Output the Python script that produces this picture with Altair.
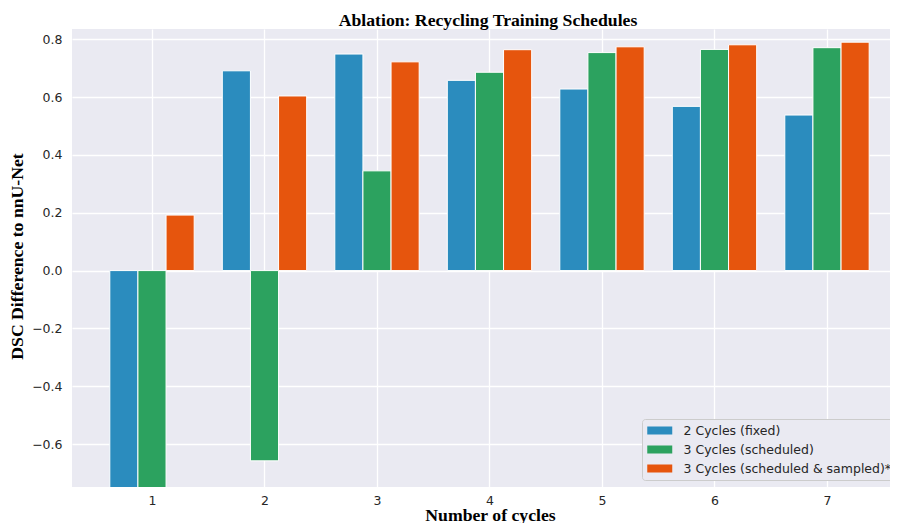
import altair as alt
import pandas as pd

cycles = [1, 2, 3, 4, 5, 6, 7]
series_names = ["2 Cycles (fixed)", "3 Cycles (scheduled)", "3 Cycles (scheduled & sampled)*"]
fixed_2 = [-0.80, 0.691, 0.749, 0.658, 0.628, 0.568, 0.538]
sched_3 = [-0.80, -0.658, 0.345, 0.686, 0.754, 0.765, 0.771]
sampled_3 = [0.192, 0.604, 0.722, 0.764, 0.774, 0.781, 0.790]
colors = ["#2b8cbe", "#2ca25f", "#e6550d"]
y_ticks = [-0.6, -0.4, -0.2, 0.0, 0.2, 0.4, 0.6, 0.8]

rows = []
for idx, (name, vals) in enumerate(zip(series_names, [fixed_2, sched_3, sampled_3])):
    for c, v in zip(cycles, vals):
        rows.append({"cycle": c, "value": v, "series": name, "idx": idx})
df = pd.DataFrame(rows)

title_font = "Liberation Serif"
label_font = "DejaVu Sans"

chart = alt.Chart(df).transform_calculate(
    x0="datum.cycle + (datum.idx - 1) * 0.25 - 0.125",
    x1="datum.cycle + (datum.idx - 1) * 0.25 + 0.125",
).mark_bar(stroke="white", strokeWidth=1, clip=True).encode(
    x=alt.X("x0:Q",
            scale=alt.Scale(domain=[0.289, 7.56], nice=False, zero=False),
            axis=alt.Axis(values=cycles, format="d", title="Number of cycles",
                          labelPadding=7, titleX=418, titleY=33,
                          titleBaseline="alphabetic", titleAlign="center")),
    x2="x1:Q",
    y=alt.Y("value:Q",
            scale=alt.Scale(domain=[-0.7485, 0.8356], nice=False, zero=False),
            axis=alt.Axis(values=y_ticks, format=".1f", title="DSC Difference to nnU-Net",
                          labelPadding=10, titleX=-50, titleY=227, titleAngle=270,
                          titleBaseline="alphabetic", titleAlign="center")),
    y2=alt.datum(0),
    color=alt.Color("series:N",
                    scale=alt.Scale(domain=series_names, range=colors),
                    legend=alt.Legend(title=None, orient="none", legendX=570, legendY=390,
                                      symbolType="M-1,-0.64H3V0.64H-1Z", symbolSize=156.25,
                                      symbolStrokeWidth=0,
                                      labelFont=label_font, labelFontSize=12.5,
                                      labelColor="#262626", labelOffset=23.5,
                                      fillColor="#EAEAF2", strokeColor="#cccccc",
                                      padding=5, cornerRadius=3, rowPadding=6,
                                      labelLimit=400)),
).properties(
    width=818,
    height=458,
    background="white",
    autosize=alt.AutoSizeParams(type="none"),
    padding={"left": 64, "top": 21, "right": 0, "bottom": 36},
    title=alt.Title("Ablation: Recycling Training Schedules", font=title_font,
                    fontSize=17.7, fontWeight="bold", color="black",
                    anchor="middle", baseline="alphabetic", offset=5, dx=7, dy=20),
).configure_view(
    fill="#EAEAF2", strokeWidth=0
).configure_axis(
    grid=True, gridColor="white", gridWidth=1.3, domain=False, ticks=False,
    labelFont=label_font, labelFontSize=12.5, labelColor="#262626",
    titleFont=title_font, titleFontSize=17.7, titleFontWeight="bold", titleColor="black",
)

chart.save("out.html", embed_options={"renderer": "svg", "actions": False})
